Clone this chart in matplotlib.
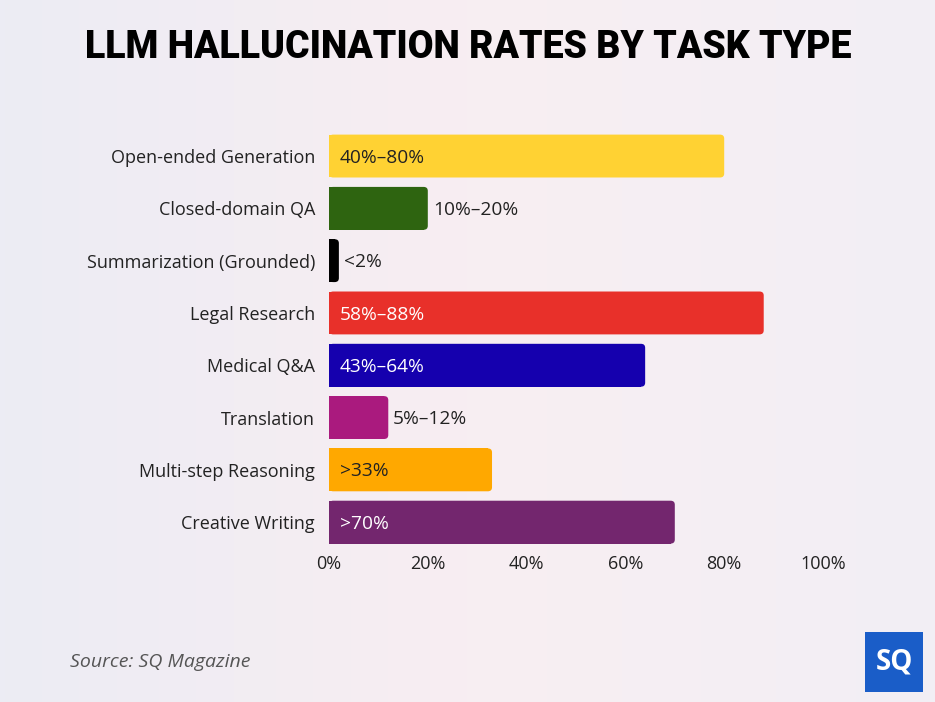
import matplotlib
matplotlib.use("Agg")
import matplotlib.pyplot as plt
from matplotlib.patches import FancyBboxPatch, Rectangle
import numpy as np

categories = ["Open-ended Generation", "Closed-domain QA", "Summarization (Grounded)",
              "Legal Research", "Medical Q&A", "Translation", "Multi-step Reasoning",
              "Creative Writing"]
values = [80, 20, 2, 88, 64, 12, 33, 70]
value_labels = ["40%–80%", "10%–20%", "<2%", "58%–88%", "43%–64%", "5%–12%", ">33%", ">70%"]
colors = ["#FFD233", "#2E6410", "#000000", "#E8302A", "#1500AE", "#AA1A7E", "#FFA800", "#73266E"]
label_inside = [True, False, False, True, True, False, True, True]
label_colors = ["#222222", "#222222", "#222222", "#FFFFFF", "#FFFFFF", "#222222", "#222222", "#FFFFFF"]
xticks = [0, 20, 40, 60, 80, 100]
xtick_labels = ["0%", "20%", "40%", "60%", "80%", "100%"]

plt.rcParams['font.family'] = ['Open Sans', 'DejaVu Sans']

fig = plt.figure(figsize=(9.35, 7.02), dpi=100)
fig.patch.set_facecolor("#F3EFF4")

# subtle background gradient
bg = fig.add_axes([0, 0, 1, 1], zorder=-10)
gx = np.linspace(0, 1, 200)
grad = np.zeros((10, 200, 3))
c1 = np.array([0xEC, 0xEC, 0xF4]) / 255
c2 = np.array([0xF8, 0xEE, 0xF2]) / 255
c3 = np.array([0xF2, 0xEF, 0xF5]) / 255
for i, t in enumerate(gx):
    if t < 0.5:
        grad[:, i] = c1 + (c2 - c1) * (t / 0.5)
    else:
        grad[:, i] = c2 + (c3 - c2) * ((t - 0.5) / 0.5)
bg.imshow(grad, aspect="auto", extent=[0, 1, 0, 1])
bg.set_axis_off()

ax = fig.add_axes([329 / 935, 1 - 548.3 / 702, 494 / 935, 418.4 / 702])
ax.set_facecolor("none")
y = np.arange(len(categories))
bars = ax.barh(y, values, height=0.82, color=colors)
ax.set_xlim(0, 100)
ax.set_ylim(len(categories) - 0.5, -0.5)

r = 0.85
aspect = (4.0 / 52.3) / r
for b, c in zip(bars, colors):
    x0, y0 = b.get_x(), b.get_y()
    w, h = b.get_width(), b.get_height()
    b.set_visible(False)
    p = FancyBboxPatch((x0, y0), w, h, boxstyle=f"round,pad=0,rounding_size={r}",
                       mutation_aspect=aspect, facecolor=c, edgecolor="none",
                       linewidth=0, zorder=2)
    ax.add_patch(p)
    ax.add_patch(Rectangle((x0, y0), max(w - r, w / 2), h, facecolor=c, edgecolor="none",
                           linewidth=0, antialiased=False, zorder=2.1))

for i, (v, lab, ins, lc) in enumerate(zip(values, value_labels, label_inside, label_colors)):
    xpos = 2.2 if ins else v + 1.0
    ax.text(xpos, i + 0.03, lab, va="center", ha="left", fontsize=13.8, color=lc, zorder=3)

ax.set_yticks(y)
ax.set_yticklabels(categories, fontsize=13.0, color="#222222")
ax.set_xticks(xticks)
ax.set_xticklabels(xtick_labels, fontsize=13, color="#222222")
ax.tick_params(axis="both", length=0)
ax.tick_params(axis="y", pad=10)
ax.tick_params(axis="x", pad=5)
for s in ax.spines.values():
    s.set_visible(False)

fig.text(468 / 935, 1 - 48 / 702, "LLM HALLUCINATION RATES BY TASK TYPE", ha="center", va="center",
         fontsize=27, fontweight="heavy", family=["Roboto", "DejaVu Sans"], color="#000000")

fig.text(70 / 935, 1 - 662 / 702, "Source: SQ Magazine", ha="left", va="center",
         fontsize=14, style="italic", color="#555555")

logo = fig.add_axes([865 / 935, 1 - 692 / 702, 58 / 935, 60 / 702])
logo.set_facecolor("#1A5DC8")
logo.set_xticks([]); logo.set_yticks([])
for s in logo.spines.values():
    s.set_visible(False)
logo.text(0.5, 0.5, "SQ", ha="center", va="center", fontsize=20, fontweight="bold",
          color="white", transform=logo.transAxes)

fig.savefig("out.png", dpi=100, facecolor=fig.get_facecolor())
